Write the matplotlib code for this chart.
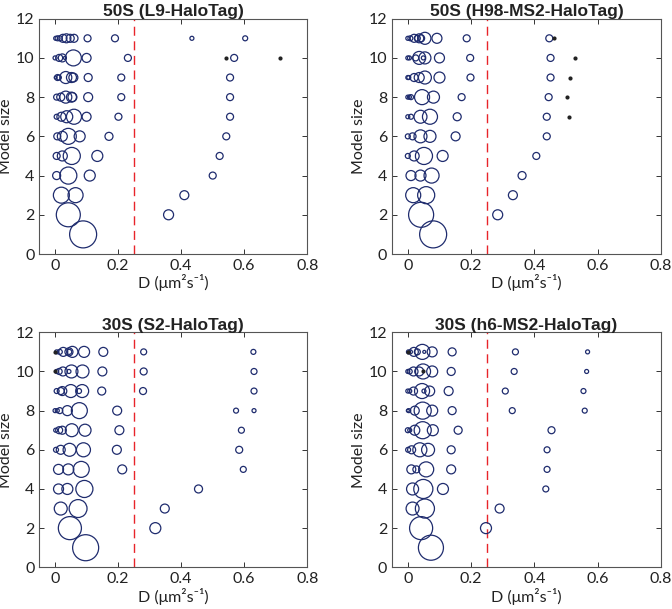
import numpy as np
import matplotlib.pyplot as plt

# ============================================================
# DATA  (D in um^2/s, weight = population share in %, per model size)
# ============================================================
titles = ["50S (L9-HaloTag)", "50S (H98-MS2-HaloTag)",
          "30S (S2-HaloTag)", "30S (h6-MS2-HaloTag)"]

# panel 1: 50S (L9-HaloTag)
l9_D = [
    [0.089],
    [0.042, 0.36],
    [0.02, 0.065, 0.41],
    [0.005, 0.042, 0.11, 0.50],
    [0.005, 0.023, 0.053, 0.134, 0.522],
    [0.007, 0.023, 0.042, 0.078, 0.171, 0.543],
    [0.005, 0.02, 0.037, 0.06, 0.10, 0.201, 0.555],
    [0.005, 0.018, 0.034, 0.052, 0.055, 0.105, 0.21, 0.555],
    [0.002, 0.008, 0.012, 0.034, 0.052, 0.058, 0.105, 0.21, 0.555],
    [0.0, 0.013, 0.023, 0.031, 0.058, 0.10, 0.231, 0.541, 0.568, 0.714],
    [0.002, 0.008, 0.015, 0.025, 0.036, 0.048, 0.06, 0.103, 0.19, 0.434, 0.603],
]
l9_W = [
    [100],
    [79, 13.7],
    [35, 31, 11],
    [8.8, 40, 16.6, 6.7],
    [6.7, 13.7, 40, 16.6, 6.7],
    [6.7, 13.7, 35, 16.6, 8.8, 6.7],
    [3.4, 11, 19.8, 31, 11, 6.7, 6.7],
    [4.9, 8.8, 19.8, 13.7, 11, 11, 6.7, 6.7],
    [1.2, 4.9, 3.4, 19.8, 13.7, 11, 8.8, 6.7, 6.7],
    [2.2, 6.7, 8.8, 1.2, 35, 11, 6.7, 0.4, 6.7, 0.4],
    [2.2, 3.4, 3.4, 8.8, 11, 8.8, 8.8, 6.7, 6.7, 2.2, 3.4],
]

# panel 2: 50S (H98-MS2-HaloTag)
h98_D = [
    [0.08],
    [0.042, 0.284],
    [0.017, 0.058, 0.332],
    [0.01, 0.04, 0.075, 0.361],
    [0.0, 0.02, 0.051, 0.11, 0.406],
    [0.0, 0.015, 0.04, 0.07, 0.151, 0.439],
    [0.0, 0.01, 0.04, 0.07, 0.156, 0.439, 0.51],
    [0.0, 0.005, 0.01, 0.045, 0.081, 0.17, 0.445, 0.504],
    [0.0, 0.003, 0.02, 0.036, 0.054, 0.10, 0.198, 0.451, 0.514],
    [0.0, 0.005, 0.025, 0.036, 0.049, 0.054, 0.10, 0.197, 0.451, 0.528],
    [0.0, 0.008, 0.02, 0.03, 0.036, 0.042, 0.054, 0.092, 0.186, 0.447, 0.461],
]
h98_W = [
    [100],
    [86, 13.7],
    [31, 40, 11],
    [13.7, 16.6, 31, 8.8],
    [3.4, 13.7, 40, 16.6, 6.7],
    [3.4, 6.7, 23, 19.8, 11, 6.7],
    [2.2, 3.4, 23, 31, 8.8, 6.7, 0.4],
    [2.2, 2.2, 3.4, 31, 19.8, 6.7, 6.7, 0.4],
    [2.2, 2.2, 8.8, 13.7, 23, 16.6, 6.7, 6.7, 0.4],
    [2.2, 2.2, 4.9, 23, 2.2, 19.8, 13.7, 6.7, 6.7, 0.4],
    [2.2, 3.4, 8.8, 4.9, 11, 6.7, 19.8, 13.7, 6.7, 6.7, 0.4],
]

# panel 3: 30S (S2-HaloTag)
s2_D = [
    [0.097],
    [0.047, 0.318],
    [0.018, 0.073, 0.348],
    [0.011, 0.039, 0.093, 0.455],
    [0.011, 0.042, 0.083, 0.213, 0.597],
    [0.003, 0.018, 0.046, 0.09, 0.196, 0.584],
    [0.002, 0.013, 0.023, 0.053, 0.095, 0.204, 0.591],
    [0.0, 0.007, 0.015, 0.039, 0.077, 0.197, 0.574, 0.631],
    [0.005, 0.018, 0.023, 0.05, 0.076, 0.086, 0.148, 0.279, 0.631],
    [0.0, 0.005, 0.013, 0.025, 0.044, 0.052, 0.087, 0.15, 0.281, 0.631],
    [0.0, 0.005, 0.015, 0.026, 0.044, 0.045, 0.055, 0.092, 0.153, 0.281, 0.629],
]
s2_W = [
    [93],
    [73, 16.6],
    [23, 44, 11],
    [13.7, 16.6, 40, 8.8],
    [13.7, 16.6, 35, 11, 4.9],
    [3.4, 11, 23, 27, 11, 6.7],
    [2.2, 6.7, 8.8, 23, 19.8, 11, 4.9],
    [2.2, 2.2, 4.9, 13.7, 35, 11, 3.4, 2.2],
    [3.4, 6.7, 11, 23, 3.4, 23, 8.8, 6.7, 4.9],
    [0.8, 2.2, 4.9, 11, 2.2, 23, 23, 11, 6.7, 4.9],
    [0.8, 2.2, 3.4, 11, 8.8, 3.4, 16.6, 16.6, 11, 4.9, 3.4],
]

# panel 4: 30S (h6-MS2-HaloTag)
h6_D = [
    [0.073],
    [0.042, 0.247],
    [0.015, 0.054, 0.29],
    [0.015, 0.049, 0.111, 0.436],
    [0.011, 0.027, 0.058, 0.137, 0.44],
    [0.001, 0.012, 0.038, 0.064, 0.137, 0.44],
    [0.0, 0.006, 0.022, 0.047, 0.079, 0.159, 0.454],
    [0.0, 0.003, 0.022, 0.047, 0.077, 0.14, 0.33, 0.559],
    [0.0, 0.006, 0.018, 0.045, 0.051, 0.069, 0.129, 0.308, 0.555],
    [0.0, 0.006, 0.018, 0.036, 0.048, 0.049, 0.077, 0.137, 0.336, 0.565],
    [0.0, 0.002, 0.008, 0.019, 0.03, 0.046, 0.052, 0.077, 0.14, 0.34, 0.568],
]
h6_W = [
    [86],
    [73, 16.6],
    [23, 50, 11],
    [19.8, 50, 16.6, 4.9],
    [11, 6.7, 31, 11, 4.9],
    [3.4, 8.8, 27, 23, 8.8, 4.9],
    [3.4, 2.2, 13.7, 40, 16.6, 8.8, 6.7],
    [1.2, 2.2, 11, 40, 16.6, 8.8, 4.9, 3.4],
    [2.2, 2.2, 8.8, 31, 2.2, 13.7, 11, 4.9, 3.4],
    [2.2, 3.4, 11, 11, 31, 0.4, 16.6, 8.8, 4.9, 2.2],
    [0.8, 2.2, 2.2, 11, 4.9, 31, 1.2, 13.7, 8.8, 4.9, 2.2],
]

panel_D = [l9_D, h98_D, s2_D, h6_D]
panel_W = [l9_W, h98_W, s2_W, h6_W]
threshold_D = 0.25

# ============================================================
# PLOTTING
# ============================================================
W, H = 672, 609
fig = plt.figure(figsize=(W / 100, H / 100), dpi=100)

# axes boxes in pixels: left, top, right, bottom
boxes = [(39.3, 18.7, 307.3, 254), (392, 18.7, 661, 254),
         (39.3, 332.3, 307.3, 567.3), (392, 332.3, 661, 567.3)]

navy = "#1f2c6e"
tick_font = ["Lato", "DejaVu Sans"]

for i, (l, t, r, b) in enumerate(boxes):
    ax = fig.add_axes([l / W, (H - b) / H, (r - l) / W, (b - t) / H])
    for k, (ds, ws) in enumerate(zip(panel_D[i], panel_W[i])):
        size = k + 1
        ds = np.array(ds)
        ws = np.array(ws)
        big = ws >= 1.0
        ax.scatter(ds[big], np.full(big.sum(), size), s=ws[big] * 3.78,
                   facecolors="none", edgecolors=navy, linewidths=0.9, zorder=3)
        if (~big).any():
            ax.scatter(ds[~big], np.full((~big).sum(), size), s=9,
                       color="#222222", linewidths=0, zorder=4)

    ax.axvline(threshold_D, color="#e8242a", linestyle=(0, (6.5, 4)), linewidth=1.0, zorder=2)

    ax.set_xlim(-0.05, 0.8)
    ax.set_ylim(0, 12)
    ax.set_xticks([0, 0.2, 0.4, 0.6, 0.8])
    ax.set_xticklabels(["0", "0.2", "0.4", "0.6", "0.8"])
    ax.set_yticks(range(0, 13, 2))
    ax.tick_params(direction="in", top=True, right=True, length=3.5, width=0.7,
                   labelsize=11.5, colors="#333333", labelcolor="#222222")
    for lab in ax.get_xticklabels() + ax.get_yticklabels():
        lab.set_family(tick_font)
    for sp in ax.spines.values():
        sp.set_color("#555555")
        sp.set_linewidth(0.8)

    ax.set_xlabel("D (μm²s⁻¹)", fontsize=11.5, family=tick_font, color="#222222", labelpad=1)
    ax.set_ylabel("Model size", fontsize=11.5, family=tick_font, color="#222222", labelpad=2)
    ax.set_title(titles[i], fontsize=12.5, fontweight="bold", family=["Liberation Sans", "DejaVu Sans"],
                 color="#222222", pad=2)

plt.savefig("out.png", dpi=100)
